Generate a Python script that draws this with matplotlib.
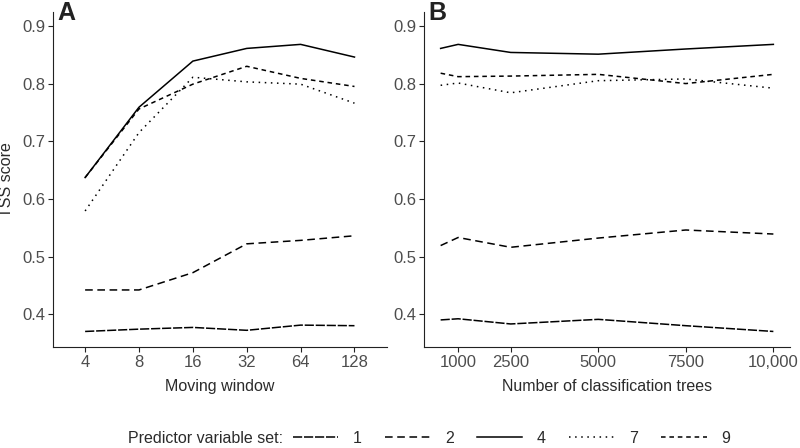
import matplotlib
matplotlib.use("Agg")
import matplotlib.pyplot as plt
from matplotlib.lines import Line2D

plt.rcParams['font.family'] = ['Liberation Sans', 'DejaVu Sans']

# panel A: moving window (discrete positions)
windows = ["4", "8", "16", "32", "64", "128"]
a_set1 = [0.370, 0.374, 0.377, 0.372, 0.381, 0.380]
a_set2 = [0.442, 0.442, 0.472, 0.522, 0.528, 0.536]
a_set4 = [0.637, 0.759, 0.839, 0.861, 0.868, 0.846]
a_set7 = [0.579, 0.715, 0.811, 0.803, 0.799, 0.766]
a_set9 = [0.637, 0.756, 0.799, 0.830, 0.809, 0.795]

# panel B: number of classification trees
trees = [500, 1000, 2500, 5000, 7500, 10000]
b_set1 = [0.390, 0.392, 0.383, 0.391, 0.380, 0.370]
b_set2 = [0.519, 0.533, 0.516, 0.532, 0.546, 0.539]
b_set4 = [0.861, 0.868, 0.854, 0.851, 0.860, 0.868]
b_set7 = [0.797, 0.801, 0.784, 0.805, 0.808, 0.792]
b_set9 = [0.818, 0.812, 0.813, 0.816, 0.800, 0.816]

tree_ticks = [1000, 2500, 5000, 7500, 10000]
tree_labels = ["1000", "2500", "5000", "7500", "10,000"]
y_ticks = [0.4, 0.5, 0.6, 0.7, 0.8, 0.9]

set_names = ["1", "2", "4", "7", "9"]
styles = {
    "1": (0, (6, 1.2)),
    "2": (0, (5, 3)),
    "4": "solid",
    "7": (0, (1, 3)),
    "9": (0, (3, 2.5)),
}

txt = "#4d4d4d"
lab = "#2b2b2b"
lw = 1.1

fig = plt.figure(figsize=(8, 4.48), dpi=100)
axA = fig.add_axes([0.066, 0.2254, 0.4175, 0.7476])
axB = fig.add_axes([0.53, 0.2254, 0.4575, 0.7476])

xa = list(range(1, len(windows) + 1))
for name, vals in zip(set_names, [a_set1, a_set2, a_set4, a_set7, a_set9]):
    axA.plot(xa, vals, color="black", lw=lw, linestyle=styles[name])
for name, vals in zip(set_names, [b_set1, b_set2, b_set4, b_set7, b_set9]):
    axB.plot(trees, vals, color="black", lw=lw, linestyle=styles[name])

axA.set_xticks(xa)
axA.set_xticklabels(windows)
axA.set_xlim(0.4, 6.6)
axA.set_xlabel("Moving window", fontsize=11.5, color=lab, labelpad=7)
axA.set_ylabel("TSS score", fontsize=11.5, color=lab)
axA.yaxis.set_label_coords(-0.117, 0.5)

axB.set_xticks(tree_ticks)
axB.set_xticklabels(tree_labels)
axB.set_xlim(25, 10475)
axB.set_xlabel("Number of classification trees", fontsize=11.5, color=lab, labelpad=7)

for ax in (axA, axB):
    ax.set_ylim(0.343, 0.924)
    ax.set_yticks(y_ticks)
    ax.set_yticklabels([f"{v:.1f}" for v in y_ticks])
    ax.spines['top'].set_visible(False)
    ax.spines['right'].set_visible(False)
    ax.spines['left'].set_color("#222222")
    ax.spines['bottom'].set_color("#222222")
    ax.tick_params(labelsize=12, labelcolor=txt, color="#222222", length=3.5, width=0.8, pad=2)

fig.text(0.072, 0.997, "A", fontsize=18, fontweight="bold", color="#222222", va="top", ha="left")
fig.text(0.535, 0.997, "B", fontsize=18, fontweight="bold", color="#222222", va="top", ha="left")

handles = [Line2D([0], [0], color="black", lw=lw, linestyle=styles[n]) for n in set_names]
fig.text(0.354, 0.022, "Predictor variable set:", fontsize=11.5, color=lab, ha="right", va="center")
fig.legend(handles, set_names, loc="center left", bbox_to_anchor=(0.366, 0.022), ncol=5,
           frameon=False, fontsize=11.5, handlelength=2.85, handletextpad=0.9,
           columnspacing=1.46, borderaxespad=0, borderpad=0, labelcolor=lab)

fig.savefig("out.png", dpi=100)
